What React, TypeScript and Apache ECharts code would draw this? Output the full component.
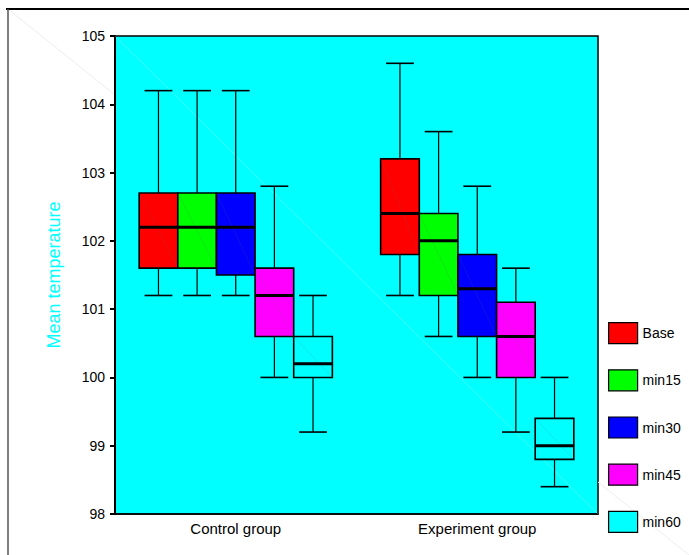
import React, { useEffect, useRef } from 'react';
import * as echarts from 'echarts';

const categories = ['Control group', 'Experiment group'];
const seriesNames = ['Base', 'min15', 'min30', 'min45', 'min60'];
const seriesColors = ['#FF0000', '#00FF00', '#0000FF', '#FF00FF', '#00FFFF'];

// [min, q1, median, q3, max] for [Control group, Experiment group]
const baseStats = [
  [101.2, 101.6, 102.2, 102.7, 104.2],
  [101.2, 101.8, 102.4, 103.2, 104.6],
];
const min15Stats = [
  [101.2, 101.6, 102.2, 102.7, 104.2],
  [100.6, 101.2, 102.0, 102.4, 103.6],
];
const min30Stats = [
  [101.2, 101.5, 102.2, 102.7, 104.2],
  [100.0, 100.6, 101.3, 101.8, 102.8],
];
const min45Stats = [
  [100.0, 100.6, 101.2, 101.6, 102.8],
  [99.2, 100.0, 100.6, 101.1, 101.6],
];
const min60Stats = [
  [99.2, 100.0, 100.2, 100.6, 101.2],
  [98.4, 98.8, 99.0, 99.4, 100.0],
];
const allStats = [baseStats, min15Stats, min30Stats, min45Stats, min60Stats];

const yMin = 98;
const yMax = 105;
const yInterval = 1;

const FONT = '"Liberation Sans", Arial, sans-serif';

function makeRenderItem(sIdx: number, count: number) {
  return (params: any, api: any) => {
    const cat = api.value(0);
    const vMin = api.value(1);
    const q1 = api.value(2);
    const med = api.value(3);
    const q3 = api.value(4);
    const vMax = api.value(5);
    const bw = api.size([1, 0])[0];
    const w = (bw * 0.8) / count;
    const cx = api.coord([cat, med])[0] + (sIdx - (count - 1) / 2) * w;
    const y = (v: number) => api.coord([cat, v])[1];
    const left = cx - w / 2;
    const right = cx + w / 2;
    const capHalf = w * 0.36;
    const yTop = y(q3);
    const yBot = y(q1);
    const whisker = { stroke: '#000', lineWidth: 1.2 };
    return {
      type: 'group',
      children: [
        { type: 'line', shape: { x1: cx, y1: y(vMax), x2: cx, y2: yTop }, style: whisker },
        { type: 'line', shape: { x1: cx, y1: yBot, x2: cx, y2: y(vMin) }, style: whisker },
        { type: 'line', shape: { x1: cx - capHalf, y1: y(vMax), x2: cx + capHalf, y2: y(vMax) }, style: { stroke: '#000', lineWidth: 1.6 } },
        { type: 'line', shape: { x1: cx - capHalf, y1: y(vMin), x2: cx + capHalf, y2: y(vMin) }, style: { stroke: '#000', lineWidth: 1.6 } },
        {
          type: 'rect',
          shape: { x: left, y: yTop, width: w, height: yBot - yTop },
          style: { fill: api.visual('color'), stroke: '#000', lineWidth: 1.6 },
        },
        { type: 'line', shape: { x1: left, y1: yTop, x2: right, y2: yBot }, style: { stroke: 'rgba(100,100,100,0.2)', lineWidth: 0.8 } },
        { type: 'line', shape: { x1: left, y1: y(med), x2: right, y2: y(med) }, style: { stroke: '#000', lineWidth: 3 } },
      ],
    };
  };
}

export default function App() {
  const ref = useRef<HTMLDivElement>(null);
  useEffect(() => {
    if (!ref.current) return;
    const chart = echarts.init(ref.current, null, { renderer: 'svg' });
    const series = seriesNames.map((name, sIdx) => ({
      type: 'custom',
      name,
      renderItem: makeRenderItem(sIdx, seriesNames.length),
      itemStyle: { color: seriesColors[sIdx] },
      encode: { x: 0, y: [1, 2, 3, 4, 5] },
      data: allStats[sIdx].map((s, i) => [i, ...s]),
      z: 2,
    }));
    chart.setOption({
      animation: false,
      backgroundColor: '#fff',
      textStyle: { fontFamily: FONT },
      grid: {
        left: 115,
        top: 36,
        width: 483,
        height: 478,
        show: true,
        backgroundColor: '#00FFFF',
        borderColor: '#000',
        borderWidth: 1.5,
      },
      legend: {
        orient: 'vertical',
        left: 608,
        top: 322,
        padding: 0,
        itemWidth: 29,
        itemHeight: 21,
        itemGap: 25,
        icon: 'rect',
        itemStyle: { borderColor: '#000', borderWidth: 1.2 },
        textStyle: { fontSize: 14, color: '#000', fontFamily: FONT },
        data: seriesNames,
        selectedMode: false,
      },
      xAxis: {
        type: 'category',
        data: categories,
        boundaryGap: true,
        axisLine: { lineStyle: { color: '#000', width: 1.5 } },
        axisTick: { alignWithLabel: true, length: 4, lineStyle: { color: '#000', width: 2 } },
        axisLabel: { color: '#000', fontSize: 15, margin: 7, fontFamily: FONT },
        splitLine: { show: false },
      },
      yAxis: {
        type: 'value',
        min: yMin,
        max: yMax,
        interval: yInterval,
        name: 'Mean temperature',
        nameLocation: 'middle',
        nameRotate: 90,
        nameGap: 52,
        nameTextStyle: { color: '#00FFFF', fontSize: 18, fontFamily: FONT },
        axisLine: { show: true, lineStyle: { color: '#000', width: 2 } },
        axisTick: { show: true, length: 5, lineStyle: { color: '#000', width: 2 } },
        axisLabel: { color: '#000', fontSize: 14, margin: 10, fontFamily: FONT },
        splitLine: { show: false },
      },
      graphic: [
        { type: 'line', z: 0, shape: { x1: 8, y1: 9, x2: 115, y2: 95 }, style: { stroke: '#eeeeee', lineWidth: 1 } },
        { type: 'line', z: 0, shape: { x1: 598, y1: 482, x2: 689, y2: 555 }, style: { stroke: '#eeeeee', lineWidth: 1 } },
        { type: 'line', z: 1, shape: { x1: 115, y1: 36, x2: 598, y2: 514 }, style: { stroke: 'rgba(255,255,255,0.25)', lineWidth: 1 } },
        { type: 'line', z: 10, shape: { x1: 6, y1: 9, x2: 689, y2: 9 }, style: { stroke: '#000', lineWidth: 2 } },
        { type: 'line', z: 10, shape: { x1: 8, y1: 9, x2: 8, y2: 555 }, style: { stroke: '#555', lineWidth: 1.5 } },
      ],
      series,
    });
    return () => chart.dispose();
  }, []);
  return (
    <div
      ref={ref}
      style={{ position: 'absolute', left: 0, top: 0, width: 689, height: 555 }}
    />
  );
}
